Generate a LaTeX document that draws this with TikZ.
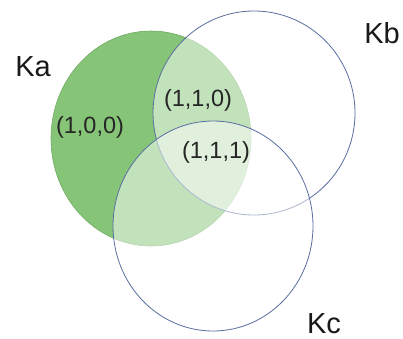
\documentclass[tikz,border=0pt]{standalone}
\usepackage{fontspec}
\setmainfont{Liberation Sans}
\definecolor{kagreen}{RGB}{134,197,120}
\definecolor{kaedge}{RGB}{112,170,100}
\definecolor{setedge}{RGB}{90,110,160}
\begin{document}
\begin{tikzpicture}[x=1pt,y=-1pt,
  setname/.style={font=\fontsize{29}{29}\selectfont, inner sep=0pt, text=black!90, text depth=0pt},
  region/.style={font=\fontsize{23.5}{23.5}\selectfont, inner sep=0pt, text=black!85},
  overset/.style={fill=white, fill opacity=0.5, draw=setedge, line width=0.8pt, draw opacity=1}]
\useasboundingbox (0,0) rectangle (403,338);
\fill[white] (0,0) rectangle (403,338);
% Ka
\filldraw[fill=kagreen, draw=kaedge, line width=0.6pt] (151,138.5) ellipse [x radius=100pt, y radius=107.5pt];
% Kb
\path[overset] (254,113) ellipse [x radius=101pt, y radius=102pt];
% Kc
\path[overset] (213,226) ellipse [x radius=100pt, y radius=105pt];
% labels
\node[setname, anchor=base] (ka) at (33,76) {Ka};
\node[setname, anchor=base] (kb) at (382,43) {Kb};
\node[setname, anchor=base] (kc) at (324,333) {Kc};
\node[region] (r100) at (90,127) {(1,0,0)};
\node[region] (r110) at (198,100) {(1,1,0)};
\node[region] (r111) at (216,152) {(1,1,1)};
\end{tikzpicture}
\end{document}
